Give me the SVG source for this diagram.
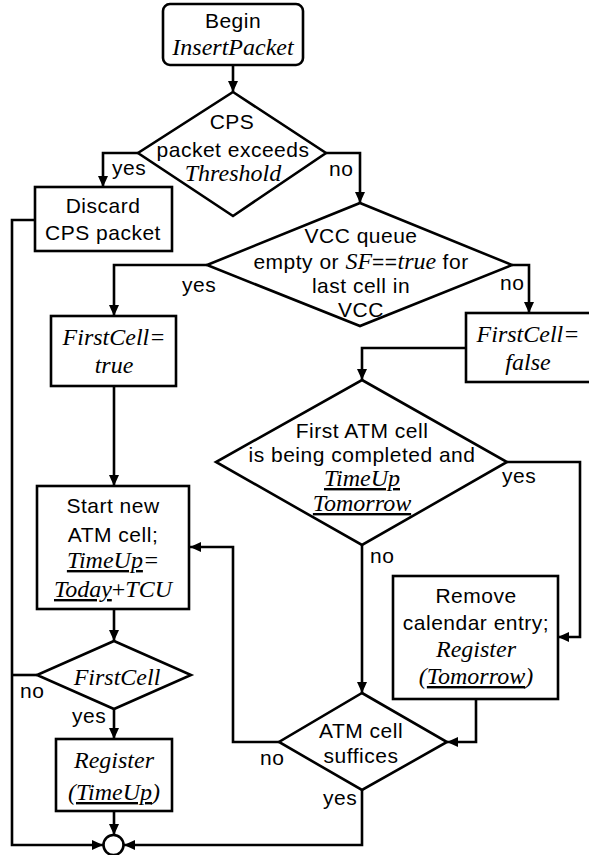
<svg xmlns="http://www.w3.org/2000/svg" width="589" height="855" viewBox="0 0 589 855">
<defs>
<marker id="arr" markerUnits="userSpaceOnUse" markerWidth="12" markerHeight="10" refX="11" refY="5" orient="auto">
<path d="M0,0 L11,5 L0,10 Z" fill="#000"/>
</marker>
<style>
.n{fill:#fff;stroke:#000;stroke-width:2.6}
.c{fill:none;stroke:#000;stroke-width:2.6;marker-end:url(#arr)}
.cn{fill:none;stroke:#000;stroke-width:2.6}
.s{font-family:"Liberation Sans",Arial,sans-serif;font-size:21px;letter-spacing:0.5px;fill:#000}
.i{font-family:"Liberation Serif","Times New Roman",serif;font-style:italic;font-size:24px;letter-spacing:0px;fill:#000}
.r{font-family:"Liberation Serif","Times New Roman",serif;font-size:24px;letter-spacing:0px;fill:#000}
.m{text-anchor:middle}
.u{text-decoration:underline}
</style>
</defs>
<rect width="589" height="855" fill="#fff"/>
<g id="connectors">
<path class="c" d="M233,65 V92"/>
<path class="c" d="M138,153 H103 V187"/>
<path class="c" d="M326,153 H360 V203"/>
<path class="c" d="M35,220 H12 V845 H103"/>
<path class="c" d="M207,265 H114 V316"/>
<path class="c" d="M512,265 H529 V313"/>
<path class="c" d="M466,348 H362 V380"/>
<path class="c" d="M114,386 V486"/>
<path class="c" d="M507,462 H580 V637 H558"/>
<path class="c" d="M362,545 V693"/>
<path class="c" d="M476,699 V742 H447"/>
<path class="c" d="M279,742 H233 V547 H190"/>
<path class="c" d="M362,790 V845 H124"/>
<path class="c" d="M114,609 V641"/>
<path class="cn" d="M37,675 H12"/>
<path class="c" d="M114,709 V739"/>
<path class="c" d="M114,811 V835"/>
<text class="s" x="112" y="175">yes</text>
<text class="s" x="329" y="176">no</text>
<text class="s" x="182" y="292">yes</text>
<text class="s" x="500" y="290">no</text>
<text class="s" x="502" y="483">yes</text>
<text class="s" x="370" y="563">no</text>
<text class="s" x="260" y="765">no</text>
<text class="s" x="323" y="805">yes</text>
<text class="s" x="20" y="698">no</text>
<text class="s" x="72" y="723">yes</text>
</g>
<g id="begin">
<rect class="n" x="163" y="4" width="140" height="61" rx="7"/>
<text class="s m" x="233" y="28">Begin</text>
<text class="i m" x="233" y="55">InsertPacket</text>
</g>
<g id="exceeds">
<polygon class="n" points="233,92 326,153 233,216 138,153"/>
<text class="s m" x="232" y="129">CPS</text>
<text class="s m" x="233" y="157">packet exceeds</text>
<text class="i m" x="233" y="181">Threshold</text>
</g>
<g id="discard">
<rect class="n" x="35" y="187" width="137" height="64"/>
<text class="s m" x="103" y="213">Discard</text>
<text class="s m" x="103" y="240">CPS packet</text>
</g>
<g id="vccq">
<polygon class="n" points="360,203 512,265 360,326 207,265"/>
<text class="s m" x="361" y="243">VCC queue</text>
<text class="m" x="361" y="269"><tspan class="s">empty or </tspan><tspan class="i">SF</tspan><tspan class="s">==</tspan><tspan class="i">true</tspan><tspan class="s"> for</tspan></text>
<text class="s m" x="361" y="293">last cell in</text>
<text class="s m" x="361" y="317">VCC</text>
</g>
<g id="fcfalse">
<rect class="n" x="466" y="313" width="130" height="69"/>
<text class="i m" x="528" y="342">FirstCell=</text>
<text class="i m" x="528" y="370">false</text>
</g>
<g id="fctrue">
<rect class="n" x="51" y="316" width="125" height="70"/>
<text class="i m" x="114" y="345">FirstCell=</text>
<text class="i m" x="114" y="373">true</text>
</g>
<g id="firstatm">
<polygon class="n" points="362,380 507,462 362,545 216,462"/>
<text class="s m" x="362" y="438">First ATM cell</text>
<text class="s m" x="362" y="462">is being completed and</text>
<text class="i m u" x="362" y="486">TimeUp</text>
<text class="i m u" x="362" y="511">Tomorrow</text>
</g>
<g id="startnew">
<rect class="n" x="37" y="486" width="152" height="123"/>
<text class="s m" x="113" y="513">Start new</text>
<text class="s m" x="113" y="542">ATM cell;</text>
<text class="m" x="113" y="568"><tspan class="i u">TimeUp</tspan><tspan class="i">=</tspan></text>
<text class="m" x="113" y="597"><tspan class="i u">Today</tspan><tspan class="r">+</tspan><tspan class="i">TCU</tspan></text>
</g>
<g id="remove">
<rect class="n" x="393" y="576" width="165" height="123"/>
<text class="s m" x="476" y="603">Remove</text>
<text class="s m" x="476" y="630">calendar entry;</text>
<text class="i m" x="476" y="657">Register</text>
<text class="m" x="476" y="684"><tspan class="i">(</tspan><tspan class="i u">Tomorrow</tspan><tspan class="i">)</tspan></text>
</g>
<g id="suffices">
<polygon class="n" points="362,693 447,742 362,790 279,742"/>
<text class="s m" x="361" y="738">ATM cell</text>
<text class="s m" x="361" y="763">suffices</text>
</g>
<g id="firstcell">
<polygon class="n" points="114,641 191,675 114,709 37,675"/>
<text class="i m" x="117" y="685">FirstCell</text>
</g>
<g id="register">
<rect class="n" x="56" y="739" width="116" height="72"/>
<text class="i m" x="114" y="768">Register</text>
<text class="m" x="114" y="800"><tspan class="i">(</tspan><tspan class="i u">TimeUp</tspan><tspan class="i">)</tspan></text>
</g>
<g id="end">
<circle class="n" cx="113.5" cy="845" r="10"/>
</g>
</svg>
